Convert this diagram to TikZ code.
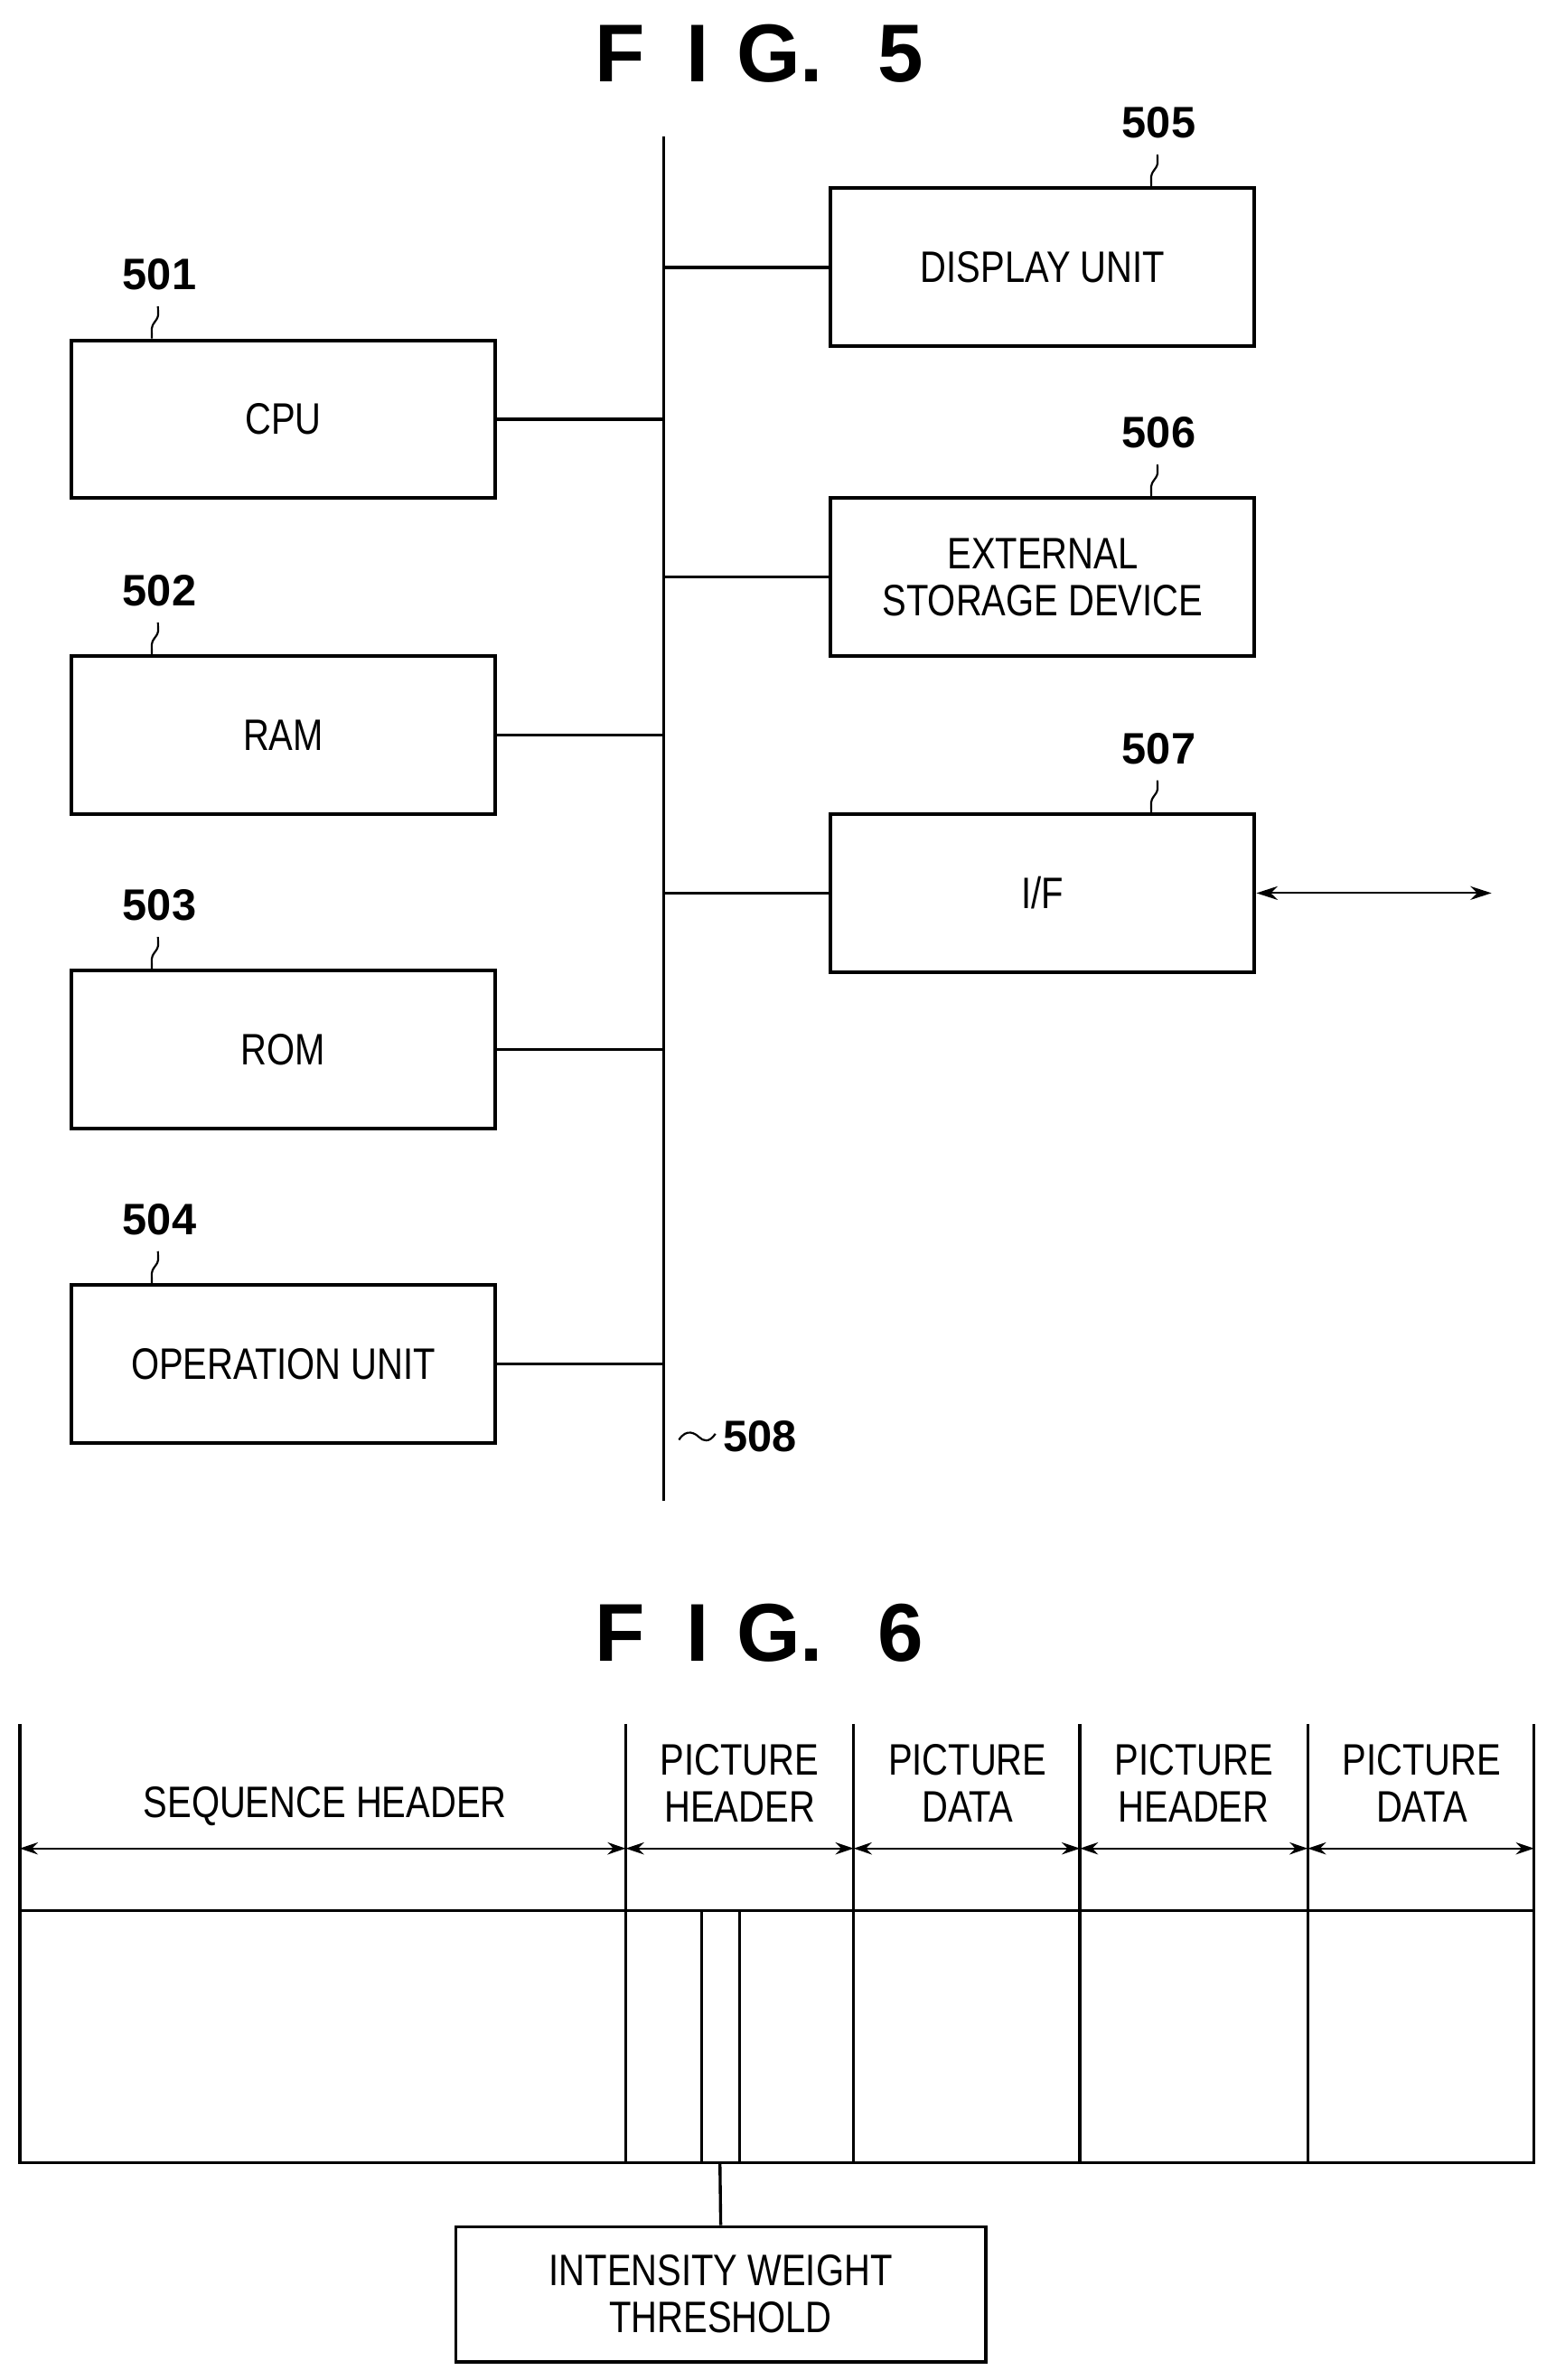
\documentclass[tikz,border=0pt]{standalone}
\usepackage{fontspec}
\setmainfont{Liberation Sans}[FakeStretch=0.82]
\newfontfamily\lblfont{Liberation Sans}[BoldFont={Liberation Sans Bold}]
\usetikzlibrary{arrows.meta}
\begin{document}
\begin{tikzpicture}[x=1pt,y=-1pt,line width=2pt,
  box/.style={draw,line width=2.4pt,minimum width=279pt,minimum height=104pt,font=\fontsize{29}{31}\selectfont,align=center,inner sep=0pt},
  lbl/.style={font=\lblfont\bfseries\fontsize{29}{30}\selectfont},
  ttl/.style={font=\lblfont\bfseries\fontsize{54}{56}\selectfont},
  txt/.style={font=\fontsize{29}{31}\selectfont,align=center},
  sq/.style={line width=1.3pt},
  dim/.style={line width=1.3pt,{Stealth[length=12pt,width=8pt]}-{Stealth[length=12pt,width=8pt]}}]
\useasboundingbox (0,0) rectangle (1024,1567);
\node[ttl] (t5) at (500,35) {F\,\,\,I\,\,G.\,\,\,\,5};
\coordinate (btop) at (437,90); \coordinate (bbot) at (437,988);
\draw (btop) -- (bbot);
\node[box] (cpu) at (186.5,276) {CPU};
\node[box] (ram) at (186.5,484) {RAM};
\node[box] (rom) at (186.5,691) {ROM};
\node[box] (op) at (186.5,898) {OPERATION UNIT};
\node[box] (disp) at (686.5,176) {DISPLAY UNIT};
\node[box] (ext) at (686.5,380) {EXTERNAL\\STORAGE DEVICE};
\node[box] (if) at (686.5,588) {I/F};
\foreach \n in {cpu,ram,rom,op} \draw (\n.east) -- (\n.east -| btop);
\foreach \n in {disp,ext,if} \draw (\n.west) -- (\n.west -| btop);
\coordinate (far) at (982,588);
\draw[line width=1.3pt,{Stealth[length=14pt,width=9pt]}-{Stealth[length=14pt,width=9pt]}] (if.east) -- (far);
\foreach \n/\l/\x in {cpu/501/105,ram/502/105,rom/503/105,op/504/105,disp/505/763,ext/506/763,if/507/763}{
  \coordinate (c\l) at ({\x},0 |- \n.north);
  \node[lbl] (l\l) at (c\l) [yshift=42pt] {\l};
  \draw[sq] (c\l) ++(-5,0) .. controls +(0,-6) and +(-3,4) .. ++(2,-11) .. controls +(3,-4) and +(0,6) .. ++(2,-10);
}
\node[lbl,anchor=west] (l508) at (472,946) {508};
\draw[sq] (447,948) .. controls (452,940) and (458,944) .. (460,946) .. controls (463,949) and (467,950) .. (471,944);
% FIG 6
\node[ttl] (t6) at (500,1075) {F\,\,\,I\,\,G.\,\,\,\,6};
\foreach \x in {13,412,562,711,861,1010}{\draw (\x,1135) -- (\x,1424);}
\draw (13,1258) rectangle (1010,1424);
\draw (462,1258) -- (462,1424); \draw (487,1258) -- (487,1424);
\coordinate (a0) at (13,1217);\coordinate (a1) at (412,1217);\coordinate (a2) at (562,1217);
\coordinate (a3) at (711,1217);\coordinate (a4) at (861,1217);\coordinate (a5) at (1010,1217);
\draw[dim] (a0) -- (a1); \draw[dim] (a1) -- (a2); \draw[dim] (a2) -- (a3); \draw[dim] (a3) -- (a4); \draw[dim] (a4) -- (a5);
\node[txt] (sh) at (214,1189) {SEQUENCE HEADER};
\node[txt] (ph1) at (487,1174) {PICTURE\\HEADER};
\node[txt] (pd1) at (637,1174) {PICTURE\\DATA};
\node[txt] (ph2) at (786,1174) {PICTURE\\HEADER};
\node[txt] (pd2) at (936,1174) {PICTURE\\DATA};
\node[box,minimum width=349pt,minimum height=89pt,line width=2pt] (iwt) at (474.5,1510.5) {INTENSITY WEIGHT\\THRESHOLD};
\coordinate (fld) at (474,1424);
\draw (fld) -- (iwt.north);
\end{tikzpicture}
\end{document}
